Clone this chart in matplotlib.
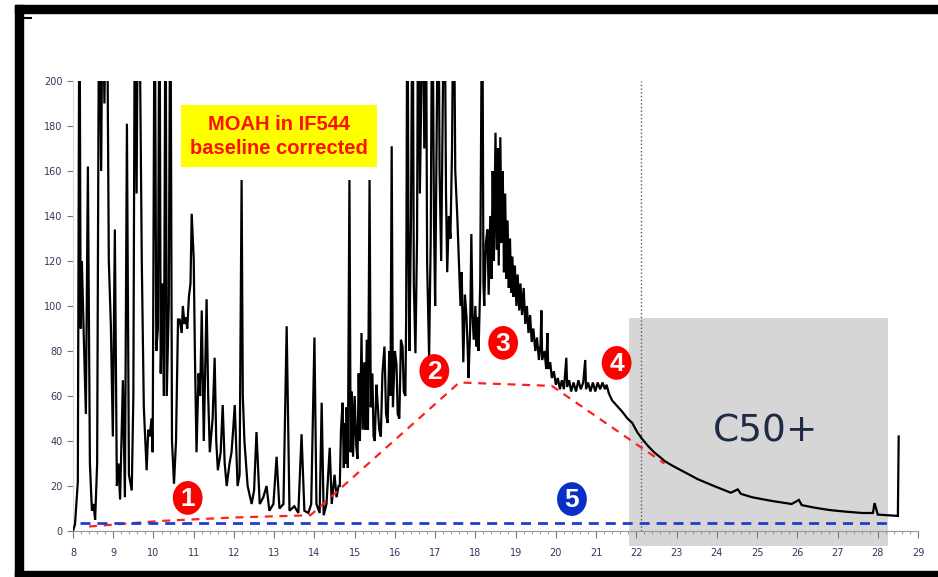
import matplotlib as mpl
mpl.use('Agg')
import matplotlib.pyplot as plt
from matplotlib.patches import Rectangle, Ellipse
from matplotlib.ticker import MultipleLocator

# MOAH trace, baseline corrected (retention time in min, detector signal),
# split into stretches of the run. Peaks running off scale are given as 260
# and clipped by the axes.
rt_early = [8.00, 8.05, 8.09, 8.12, 8.16, 8.19, 8.22, 8.27, 8.32, 8.37, 8.42,
            8.47, 8.51, 8.55, 8.60, 8.65, 8.70, 8.74, 8.78, 8.84, 8.89, 8.94,
            8.99, 9.04, 9.09, 9.13, 9.17, 9.24, 9.29, 9.34, 9.39, 9.46, 9.50,
            9.54, 9.58, 9.62, 9.66, 9.71, 9.76, 9.83, 9.87, 9.91, 9.95, 9.98,
            10.03, 10.07, 10.11, 10.15, 10.18, 10.22, 10.26, 10.30, 10.33,
            10.38, 10.42, 10.46, 10.51, 10.56, 10.61]
sig_early = [0, 3, 14, 22, 260, 90, 120, 85, 52, 162, 30,
             9, 12, 5, 30, 260, 160, 260, 190, 260, 120, 92,
             42, 134, 20, 30, 14, 67, 15, 181, 25, 18, 60,
             260, 150, 260, 220, 119, 55, 27, 45, 42, 50, 35,
             260, 80, 90, 260, 70, 110, 60, 260, 60,
             100, 260, 40, 21, 40, 94]

rt_hump = [10.65, 10.70, 10.73, 10.77, 10.80, 10.84, 10.88, 10.92, 10.95,
           11.00, 11.03, 11.07, 11.12, 11.16, 11.20, 11.25, 11.32, 11.36,
           11.40, 11.47, 11.52, 11.56, 11.60, 11.67, 11.72, 11.77, 11.82,
           11.89, 11.94, 11.98, 12.02, 12.09, 12.14, 12.19, 12.22, 12.26,
           12.34, 12.44, 12.50, 12.56, 12.64, 12.73, 12.81, 12.88, 12.98,
           13.06, 13.13, 13.23, 13.31, 13.38, 13.50, 13.60, 13.68, 13.75,
           13.85, 13.92, 14.00, 14.05, 14.13, 14.18, 14.23, 14.30, 14.38,
           14.43, 14.50, 14.55, 14.60]
sig_hump = [94, 88, 100, 92, 95, 90, 104, 110, 141,
            121, 78, 35, 70, 60, 98, 40, 103, 60,
            35, 50, 77, 40, 27, 35, 56, 30, 20,
            30, 35, 45, 56, 20, 25, 156, 60, 40,
            20, 12, 18, 44, 12, 15, 20, 9, 12,
            33, 10, 12, 91, 9, 11, 8, 43, 9,
            8, 12, 86, 12, 8, 57, 7, 12, 37,
            12, 25, 15, 20]

rt_rise = [14.63, 14.66, 14.70, 14.73, 14.75, 14.78, 14.80, 14.83, 14.87,
           14.90, 14.93, 14.96, 15.00, 15.04, 15.07, 15.10, 15.13, 15.17,
           15.20, 15.24, 15.27, 15.30, 15.33, 15.37, 15.40, 15.44, 15.47,
           15.50, 15.54, 15.57, 15.61, 15.65, 15.69, 15.74, 15.78, 15.82,
           15.86, 15.89, 15.92, 15.95, 16.00, 16.04, 16.07, 16.11, 16.15,
           16.19, 16.22]
sig_rise = [20, 45, 57, 28, 48, 30, 55, 28, 156,
            35, 62, 33, 60, 38, 32, 70, 40, 88,
            45, 75, 45, 85, 45, 156, 55, 70, 42,
            40, 65, 57, 45, 42, 70, 82, 52, 48,
            80, 60, 171, 55, 80, 74, 52, 50, 85,
            82, 62]

rt_main = [16.26, 16.28, 16.31, 16.34, 16.36, 16.40, 16.44, 16.47, 16.51,
           16.55, 16.58, 16.62, 16.66, 16.69, 16.73, 16.77, 16.80, 16.85,
           16.89, 16.93, 16.97, 17.00, 17.04, 17.08, 17.11, 17.15, 17.19,
           17.23, 17.27, 17.30, 17.34, 17.38, 17.42, 17.46, 17.50, 17.55,
           17.59, 17.63, 17.66, 17.70, 17.74, 17.78, 17.81, 17.83, 17.87,
           17.90, 17.93, 17.96, 18.00, 18.03, 18.05, 18.08, 18.12, 18.17,
           18.20]
sig_main = [60, 95, 260, 120, 80, 140, 260, 110, 79,
            130, 260, 150, 200, 260, 170, 260, 120, 77,
            130, 260, 140, 100, 180, 260, 160, 120, 190,
            260, 150, 115, 140, 130, 170, 260, 160, 140,
            120, 100, 115, 75, 105, 95, 80, 68, 90,
            132, 95, 85, 100, 82, 95, 80, 110, 260,
            110]

rt_tail = [18.22, 18.26, 18.30, 18.33, 18.37, 18.40, 18.43, 18.46, 18.50,
           18.53, 18.56, 18.58, 18.62, 18.65, 18.68, 18.71, 18.74, 18.77,
           18.80, 18.83, 18.86, 18.89, 18.92, 18.95, 18.98, 19.02, 19.05,
           19.09, 19.12, 19.16, 19.20, 19.24, 19.28, 19.32, 19.36, 19.40,
           19.44, 19.49, 19.53, 19.58, 19.62, 19.64, 19.66, 19.72, 19.76,
           19.79, 19.81, 19.86, 19.90, 19.95, 20.00, 20.05, 20.10, 20.15,
           20.20, 20.26, 20.28, 20.33, 20.38, 20.44, 20.50, 20.56, 20.62,
           20.68, 20.73, 20.75, 20.80, 20.86, 20.92, 20.98, 21.04, 21.10,
           21.16, 21.22, 21.26]
sig_tail = [100, 128, 134, 105, 140, 112, 160, 120, 177,
            125, 170, 118, 175, 128, 160, 115, 150, 112,
            138, 108, 130, 106, 122, 104, 118, 100, 114,
            98, 110, 96, 108, 92, 100, 88, 96, 84,
            90, 80, 86, 76, 83, 98, 76, 80, 72,
            88, 72, 75, 68, 71, 65, 68, 63, 67,
            63, 77, 64, 67, 62, 66, 62, 67, 63,
            66, 76, 63, 66, 62, 66, 62, 66, 63,
            66, 63, 65]

rt_late = [21.32, 21.40, 21.50, 21.65, 21.78, 21.90, 22.02, 22.14, 22.28,
           22.44, 22.58, 22.71, 22.90, 23.11, 23.32, 23.53, 23.73, 23.93,
           24.14, 24.35, 24.52, 24.60, 24.88, 25.17, 25.42, 25.67, 25.86,
           26.04, 26.11, 26.45, 26.81, 27.20, 27.62, 27.88, 27.92, 28.00,
           28.25, 28.50, 28.52]
sig_late = [61, 58, 56, 53, 50, 48, 44, 41, 38,
            35, 33, 31, 29, 27, 25, 23, 21.5, 20,
            18.5, 17, 18.5, 16.5, 15, 14, 13.2, 12.5, 12,
            13.8, 11.5, 10.3, 9.3, 8.6, 8.0, 8.0, 12.4, 7.3,
            7.0, 6.7, 42]

rt = rt_early + rt_hump + rt_rise + rt_main + rt_tail + rt_late
signal = sig_early + sig_hump + sig_rise + sig_main + sig_tail + sig_late
assert len(rt) == len(signal)

# manual baseline (red) and blank level (blue)
base_rt = [8.40, 10.20, 12.00, 13.90, 17.60, 19.90, 22.70]
base_signal = [2.0, 4.5, 6.0, 7.0, 66.0, 64.5, 30.0]
blank_rt = [8.17, 28.33]
blank_signal = [3.5, 3.5]

# numbered markers: label, rt, signal, colour
marker_labels = ['1', '2', '3', '4', '5']
marker_rt = [10.85, 16.98, 18.69, 21.51, 20.40]
marker_signal = [14.7, 71.1, 83.6, 74.7, 14.2]
marker_colors = ['#ff0000', '#ff0000', '#ff0000', '#ff0000', '#0a2fc8']

c50_start, c50_end, c50_top = 21.81, 28.26, 94.7
cut_rt = 22.11

fig = plt.figure(figsize=(9.38, 5.77), dpi=100)
ax = fig.add_axes([73 / 938, 1 - 531 / 577, 845 / 938, 450 / 577])

# C50+ region
ax.add_patch(Rectangle((c50_start, -6.5), c50_end - c50_start, c50_top + 6.5,
                       facecolor='#d6d6d6', edgecolor='none', zorder=0,
                       clip_on=False))
ax.text(25.2, 44.4, 'C50+', fontsize=27,
        color='#1f2a44', ha='center', va='center', zorder=1)
ax.axvline(cut_rt, color='#555555', linestyle=':', linewidth=1.0, zorder=2)

ax.plot(rt, signal, color='black', linewidth=1.6, zorder=3,
        solid_joinstyle='miter')

ax.plot(base_rt, base_signal, color='#ff2020', linewidth=1.6,
        dashes=(3.6, 3.0), zorder=4)
ax.plot(blank_rt, blank_signal, color='#1d3fd0', linewidth=2.0,
        dashes=(3.6, 2.5), zorder=4)

for lab, x, y, col in zip(marker_labels, marker_rt, marker_signal,
                          marker_colors):
    ax.add_patch(Ellipse((x, y), 0.74, 15.0, facecolor=col,
                         edgecolor='none', zorder=5))
    ax.text(x, y - 0.3, lab, color='white', fontsize=19, fontweight='bold',
            family='Liberation Sans', ha='center', va='center', zorder=6)

# title box
ax.text(13.12, 175.5, 'MOAH in IF544\nbaseline corrected', fontsize=14.5,
        fontweight='bold', color='#ff1000', family='Liberation Sans',
        ha='center', va='center', linespacing=1.35, zorder=6,
        bbox=dict(boxstyle='square,pad=0.45', facecolor='#ffff00',
                  edgecolor='none'))

ax.set_xlim(8, 29)
ax.set_ylim(0, 200)
ax.xaxis.set_major_locator(MultipleLocator(1))
ax.xaxis.set_minor_locator(MultipleLocator(0.2))
ax.yaxis.set_major_locator(MultipleLocator(20))
ax.tick_params(axis='both', which='major', labelsize=7, colors='#777777',
               labelcolor='#33395a', length=4, width=0.8)
ax.tick_params(axis='x', which='minor', length=2.5, width=0.6,
               colors='#888888')
ax.tick_params(axis='x', which='major', length=5, pad=7)
for side in ('top', 'right'):
    ax.spines[side].set_visible(False)
ax.spines['left'].set_color('#dddddd')
ax.spines['bottom'].set_color('#999999')
ax.spines['bottom'].set_linewidth(0.8)

# black frame around the panel
W, H = 938, 577
fig.add_artist(Rectangle((15 / W, 0), 8 / W, 1 - 5 / H, color='black',
                         transform=fig.transFigure))
fig.add_artist(Rectangle((15 / W, 1 - 13 / H), 1, 8 / H, color='black',
                         transform=fig.transFigure))
fig.add_artist(Rectangle((15 / W, 0), 1, 6 / H, color='black',
                         transform=fig.transFigure))
fig.add_artist(plt.Line2D([23 / W, 31 / W], [1 - 18 / H, 1 - 18 / H],
                          color='black', linewidth=1.5))

fig.savefig('out.png', dpi=100)
